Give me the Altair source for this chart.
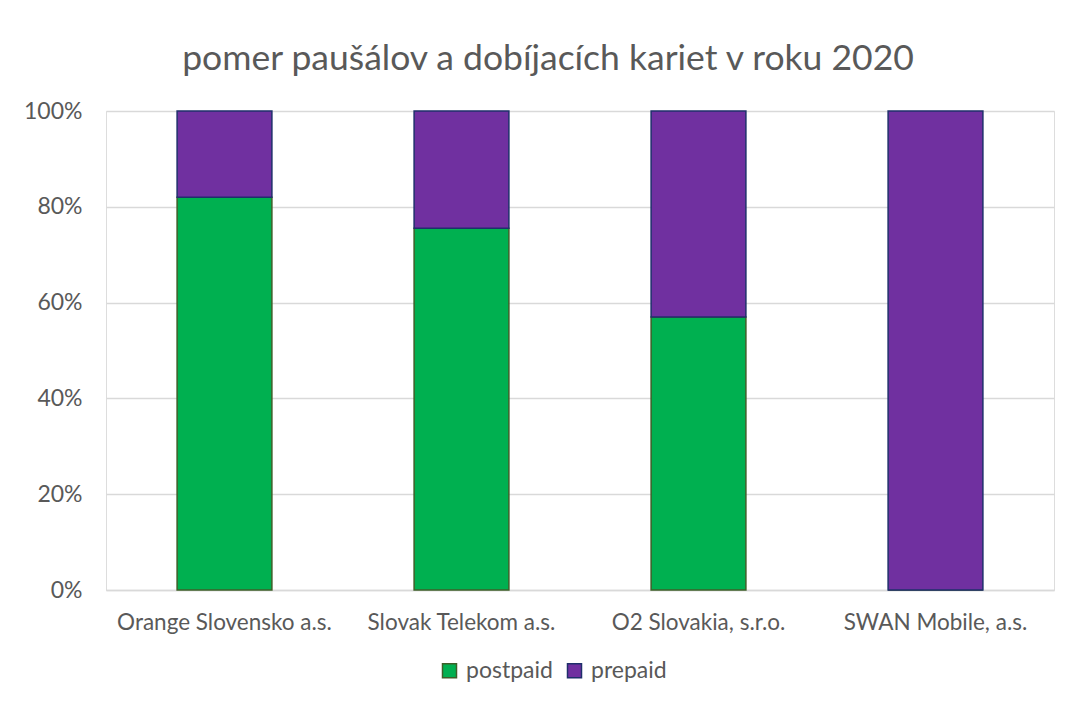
import altair as alt
import pandas as pd

operators = ["Orange Slovensko a.s.", "Slovak Telekom a.s.", "O2 Slovakia, s.r.o.", "SWAN Mobile, a.s."]
postpaid = [0.82, 0.755, 0.57, 0.0]
prepaid = [0.18, 0.245, 0.43, 1.0]
series = ["postpaid", "prepaid"]
fill_colors = ["#00B050", "#7030A0"]
stroke_colors = ["#3E5F28", "#1F2F6B"]

rows = []
for i, op in enumerate(operators):
    rows.append({"operator": op, "type": "postpaid", "value": postpaid[i], "ord": 0})
    rows.append({"operator": op, "type": "prepaid", "value": prepaid[i], "ord": 1})
df = pd.DataFrame(rows)

FONT = "Lato"
legend_cfg = dict(title=None, orient="none", direction="horizontal",
                  legendX=332, legendY=548,
                  labelFontSize=23, labelColor="#595959",
                  labelFont=FONT, symbolType="square",
                  symbolSize=196, symbolStrokeWidth=1.5,
                  columnPadding=10, labelOffset=5)

chart = alt.Chart(df).mark_bar(strokeWidth=1.5).encode(
    x=alt.X("operator:N", sort=operators, title=None,
            scale=alt.Scale(paddingInner=0.6, paddingOuter=0.3),
            axis=alt.Axis(labelAngle=0, labelFontSize=22.5, labelColor="#595959",
                          labelFont=FONT, ticks=False, domainColor="#D9D9D9",
                          domainWidth=1.5, labelPadding=21, grid=False,
                          labelLimit=400)),
    y=alt.Y("value:Q", stack="zero", title=None,
            scale=alt.Scale(domain=[0, 1]),
            axis=alt.Axis(format=".0%", values=[0, 0.2, 0.4, 0.6, 0.8, 1.0],
                          labelFontSize=23, labelColor="#595959", labelFont=FONT,
                          ticks=False, domain=False, gridColor="#D9D9D9",
                          gridWidth=1.5, labelPadding=24)),
    color=alt.Color("type:N", scale=alt.Scale(domain=series, range=fill_colors),
                    legend=alt.Legend(**legend_cfg)),
    stroke=alt.Stroke("type:N", scale=alt.Scale(domain=series, range=stroke_colors),
                      legend=alt.Legend(**legend_cfg)),
    order=alt.Order("ord:Q"),
).properties(
    width=948,
    height=479,
    title=alt.TitleParams("pomer paušálov a dobíjacích kariet v roku 2020",
                          fontSize=35.5, font=FONT, fontWeight="normal",
                          color="#595959", anchor="middle", offset=23, dx=-32),
    autosize=alt.AutoSizeParams(type="none"),
    padding={"left": 98, "top": 103, "right": 8, "bottom": 110},
).configure_view(stroke=None).configure(background="white")

chart.save("out.html", embed_options={"renderer": "svg", "actions": False})
